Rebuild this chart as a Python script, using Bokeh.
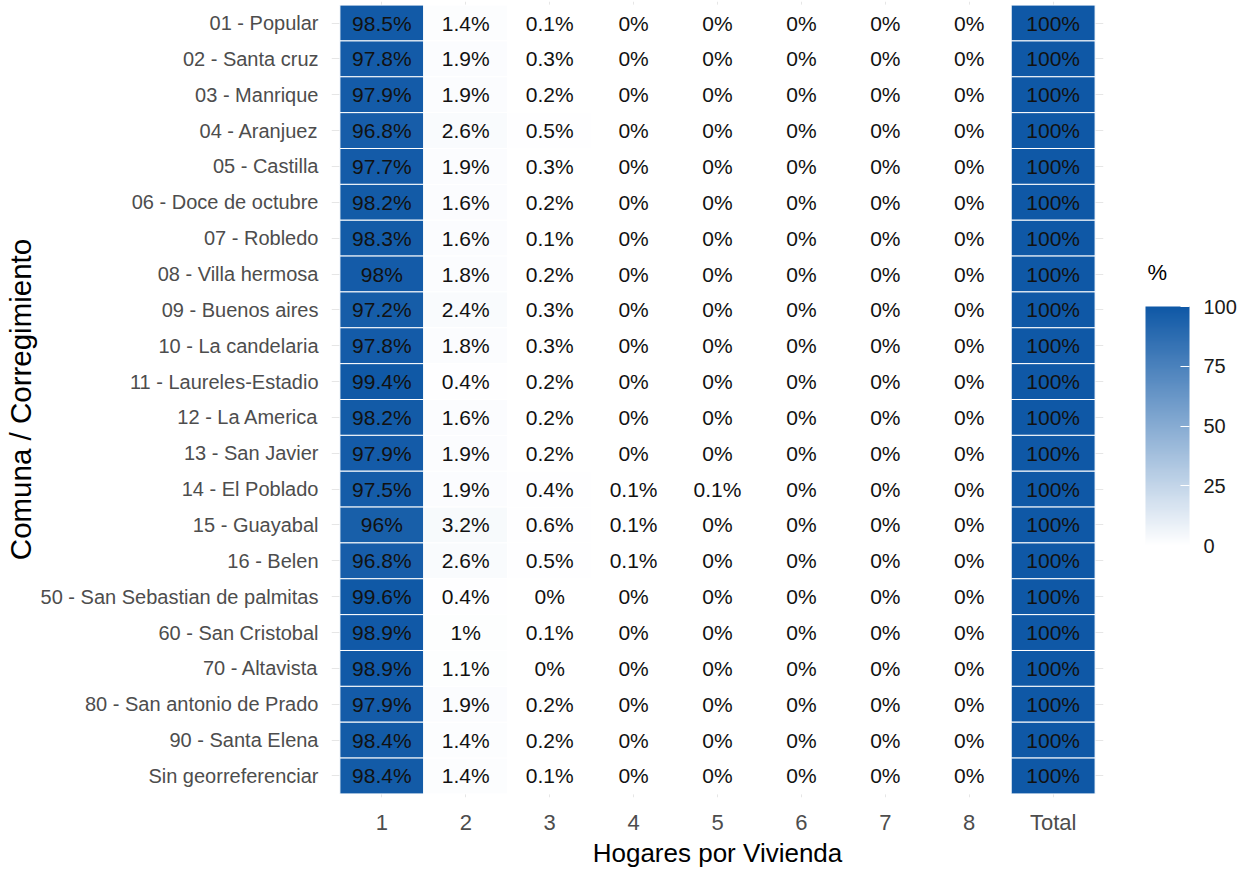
from bokeh.plotting import figure
from bokeh.models import (ColumnDataSource, LinearColorMapper, ColorBar, FixedTicker, Range1d, LinearAxis)
from bokeh.core.properties import value
from bokeh.embed import file_html
from bokeh.resources import INLINE

comunas = [
    "01 - Popular", "02 - Santa cruz", "03 - Manrique", "04 - Aranjuez", "05 - Castilla",
    "06 - Doce de octubre", "07 - Robledo", "08 - Villa hermosa", "09 - Buenos aires",
    "10 - La candelaria", "11 - Laureles-Estadio", "12 - La America", "13 - San Javier",
    "14 - El Poblado", "15 - Guayabal", "16 - Belen", "50 - San Sebastian de palmitas",
    "60 - San Cristobal", "70 - Altavista", "80 - San antonio de Prado", "90 - Santa Elena",
    "Sin georreferenciar",
]
hogares = ["1", "2", "3", "4", "5", "6", "7", "8", "Total"]

h1 = [98.5, 97.8, 97.9, 96.8, 97.7, 98.2, 98.3, 98, 97.2, 97.8, 99.4, 98.2, 97.9, 97.5, 96, 96.8, 99.6, 98.9, 98.9, 97.9, 98.4, 98.4]
h2 = [1.4, 1.9, 1.9, 2.6, 1.9, 1.6, 1.6, 1.8, 2.4, 1.8, 0.4, 1.6, 1.9, 1.9, 3.2, 2.6, 0.4, 1, 1.1, 1.9, 1.4, 1.4]
h3 = [0.1, 0.3, 0.2, 0.5, 0.3, 0.2, 0.1, 0.2, 0.3, 0.3, 0.2, 0.2, 0.2, 0.4, 0.6, 0.5, 0, 0.1, 0, 0.2, 0.2, 0.1]
h4 = [0, 0, 0, 0, 0, 0, 0, 0, 0, 0, 0, 0, 0, 0.1, 0.1, 0.1, 0, 0, 0, 0, 0, 0]
h5 = [0, 0, 0, 0, 0, 0, 0, 0, 0, 0, 0, 0, 0, 0.1, 0, 0, 0, 0, 0, 0, 0, 0]
h6 = [0] * 22
h7 = [0] * 22
h8 = [0] * 22
total = [100] * 22
columns = [h1, h2, h3, h4, h5, h6, h7, h8, total]

x_title = "Hogares por Vivienda"
y_title = "Comuna / Corregimiento"
legend_title = "%"
legend_ticks = [0, 25, 50, 75, 100]

# build tile table
xs, ys, vals, labels = [], [], [], []
for ci, col in enumerate(columns):
    for ri, v in enumerate(col):
        xs.append(ci + 1)
        ys.append(ri + 1)
        vals.append(v)
        labels.append(f"{v:g}%")
src = ColumnDataSource(dict(x=xs, y=ys, v=vals, label=labels))

def interp_palette(c0, c1, n=256):
    a = [int(c0[i:i + 2], 16) for i in (1, 3, 5)]
    b = [int(c1[i:i + 2], 16) for i in (1, 3, 5)]
    out = []
    for k in range(n):
        t = k / (n - 1)
        out.append("#%02x%02x%02x" % tuple(round(a[j] + (b[j] - a[j]) * t) for j in range(3)))
    return out

palette = interp_palette("#FFFFFF", "#0F58A6")
mapper = LinearColorMapper(palette=palette, low=0, high=100)

FONT = "Liberation Sans"
nx, ny = len(hogares), len(comunas)
W, H = 1252, 872
FL, FR, FT, FB = 331, 1103, 1, 797   # frame edges in pixels
p = figure(width=W, height=H, output_backend="svg", toolbar_location=None,
           x_range=Range1d(0.4, nx + 0.6), y_range=Range1d(ny + 0.6, 0.4),
           min_border_left=FL, min_border_right=W - FR, min_border_top=FT, min_border_bottom=H - FB)
p.outline_line_color = None
p.background_fill_color = "white"

p.rect(x="x", y="y", width=1, height=1, source=src,
       fill_color={"field": "v", "transform": mapper},
       line_color="white", line_width=1)
p.text(x="x", y="y", text="label", source=src, text_align="center", text_baseline="middle",
       text_font=value(FONT), text_font_size="21px", text_color="#111111")

# axes
p.xaxis.ticker = FixedTicker(ticks=list(range(1, nx + 1)))
p.xaxis.major_label_overrides = {i + 1: h for i, h in enumerate(hogares)}
p.yaxis.ticker = FixedTicker(ticks=list(range(1, ny + 1)))
p.yaxis.major_label_overrides = {i + 1: c for i, c in enumerate(comunas)}

# helper axis on the right that only carries the legend title text
p.extra_y_ranges = {"px": Range1d(0, FB - FT)}
rax = LinearAxis(y_range_name="px", ticker=FixedTicker(ticks=[525]),
                 major_label_overrides={525: legend_title})
p.add_layout(rax, "right")

for ax in (p.xaxis[0], p.yaxis[0], rax):
    ax.axis_line_color = None
    ax.major_tick_line_color = None
    ax.minor_tick_line_color = None
    ax.major_tick_out = 0
    ax.major_tick_in = 0
    ax.minor_tick_out = 0
    ax.minor_tick_in = 0
    ax.major_label_text_font = FONT
    ax.major_label_text_color = "#4d4d4d"
    ax.axis_label_text_font = FONT
    ax.axis_label_text_font_style = "normal"
    ax.axis_label_text_color = "black"

p.xaxis.major_label_text_font_size = "22px"
p.yaxis[0].major_label_text_font_size = "20px"
p.xaxis.major_label_standoff = 12
p.yaxis[0].major_label_standoff = 13
p.xaxis.axis_label = x_title
p.xaxis.axis_label_text_font_size = "26px"
p.xaxis.axis_label_standoff = 0
p.yaxis[0].axis_label = y_title
p.yaxis[0].axis_label_text_font_size = "29.5px"
p.yaxis[0].axis_label_standoff = 1

rax.major_label_text_font_size = "22px"
rax.major_label_text_color = "black"
rax.major_label_standoff = 44

p.xgrid.ticker = FixedTicker(ticks=list(range(1, nx + 1)))
p.ygrid.ticker = FixedTicker(ticks=list(range(1, ny + 1)))
p.xgrid.grid_line_color = "#e6e6e6"
p.ygrid.grid_line_color = "#e6e6e6"

cb = ColorBar(color_mapper=mapper, location=(814, 252), width=44, height=239, padding=0,
              ticker=FixedTicker(ticks=legend_ticks),
              major_label_text_font=FONT, major_label_text_font_size="20px",
              major_label_text_color="#1a1a1a", label_standoff=14,
              major_tick_line_color="white", major_tick_in=9, major_tick_out=0,
              bar_line_color=None, border_line_color=None, background_fill_alpha=0)
p.add_layout(cb, "center")

open("out.html", "w").write(file_html(p, INLINE))
